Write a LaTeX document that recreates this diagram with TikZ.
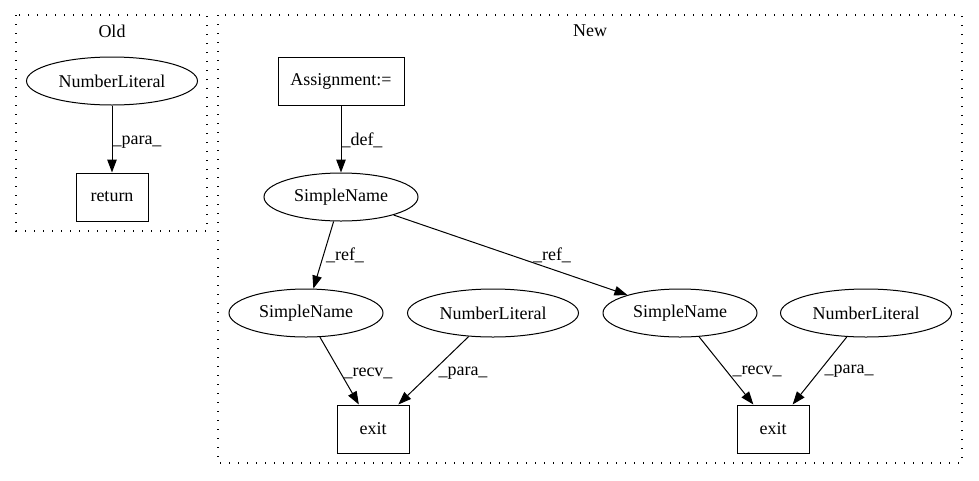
\documentclass[tikz,border=0pt]{standalone}
\usepackage{fontspec}
\setmainfont{Liberation Serif}
\usetikzlibrary{shapes.geometric,arrows.meta}
\tikzset{
  base/.style={draw, line width=1pt, inner sep=0pt, font=\fontsize{18}{21}\selectfont},
  ell/.style={base, ellipse, minimum height=48pt},
  boxnode/.style={base, rectangle, minimum height=48pt},
  lbl/.style={inner sep=0pt, font=\fontsize{18}{21}\selectfont},
  edge/.style={line width=1pt, -{Triangle[length=13pt,width=9.5pt]}},
  cluster/.style={line width=1.2pt, dash pattern=on 1.4pt off 7.6pt},
}
\begin{document}
\begin{tikzpicture}[x=1pt,y=-1pt]
\useasboundingbox (0,0) rectangle (979,480);
% clusters
\draw[cluster] (16,15) rectangle (207,231);
\node[lbl] (oldlbl) at (112,31) {Old};
\draw[cluster] (218,15) rectangle (962,463);
\node[lbl] (newlbl) at (590,31) {New};
% Old nodes
\node[ell, minimum width=171pt] (onl) at (112,81) {NumberLiteral};
\node[boxnode, minimum width=72pt] (oret) at (112,197) {return};
\draw[edge] (onl) -- (oret);
\node[lbl] (l1) at (137,142) {\_para\_};
% New nodes
\node[boxnode, minimum width=126pt] (asg) at (341,81) {Assignment:=};
\node[ell, minimum width=154pt] (sn0) at (341,197) {SimpleName};
\node[ell, minimum width=154pt] (sn1) at (306,313) {SimpleName};
\node[ell, minimum width=171pt] (nl1) at (493,313) {NumberLiteral};
\node[ell, minimum width=154pt] (sn2) at (680,313) {SimpleName};
\node[ell, minimum width=171pt] (nl2) at (866,313) {NumberLiteral};
\node[boxnode, minimum width=72pt] (ex1) at (373,429) {exit};
\node[boxnode, minimum width=72pt] (ex2) at (773,429) {exit};
% edges
\draw[edge] (asg) -- (sn0);
\draw[edge] (sn0) -- (sn1);
\draw[edge] (sn0) -- (sn2);
\draw[edge] (sn1) -- (ex1);
\draw[edge] (nl1) -- (ex1);
\draw[edge] (sn2) -- (ex2);
\draw[edge] (nl2) -- (ex2);
% edge labels
\node[lbl] (l2) at (362,140) {\_def\_};
\node[lbl] (l3) at (345,255) {\_ref\_};
\node[lbl] (l4) at (552,255) {\_ref\_};
\node[lbl] (l5) at (368,373) {\_recv\_};
\node[lbl] (l6) at (463,373) {\_para\_};
\node[lbl] (l7) at (757,371) {\_recv\_};
\node[lbl] (l8) at (849,371) {\_para\_};
\end{tikzpicture}
\end{document}
